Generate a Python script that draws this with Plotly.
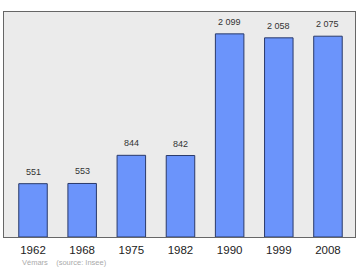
import plotly.graph_objects as go

years = ["1962", "1968", "1975", "1982", "1990", "1999", "2008"]
population = [551, 553, 844, 842, 2099, 2058, 2075]
labels = ["551", "553", "844", "842", "2 099", "2 058", "2 075"]

fig = go.Figure()
fig.add_trace(go.Bar(
    x=years, y=population,
    marker=dict(color="#6b94fb", line=dict(color="#2a3a6a", width=1)),
    width=0.58,
))
for i, (v, t) in enumerate(zip(population, labels)):
    fig.add_annotation(x=i, y=v, text=t, showarrow=False, yanchor="bottom",
                       yshift=5, font=dict(size=9, color="#333333", family="Liberation Sans"))
fig.update_layout(
    width=360, height=270,
    margin=dict(l=4, r=5, t=12, b=33),
    paper_bgcolor="white", plot_bgcolor="#ebebeb",
    showlegend=False,
    xaxis=dict(type="category", range=[-0.59, 6.55], showgrid=False,
               tickfont=dict(size=11.5, color="#222222", family="Liberation Sans"),
               ticks="", ticklabelstandoff=2,
               showline=True, linecolor="#666666", linewidth=1, mirror=True),
    yaxis=dict(range=[0, 2325], showgrid=False, showticklabels=False, ticks="",
               zeroline=False,
               showline=True, linecolor="#666666", linewidth=1, mirror=True),
)
fig.add_annotation(text="Vémars&nbsp;&nbsp;&nbsp;&nbsp;(source: Insee)", xref="paper", yref="paper",
                   x=16/351, y=-25/225, xanchor="left", yanchor="middle", showarrow=False,
                   font=dict(size=7.5, color="#aaaaaa", family="Liberation Sans"))
fig.write_html("out.html")
